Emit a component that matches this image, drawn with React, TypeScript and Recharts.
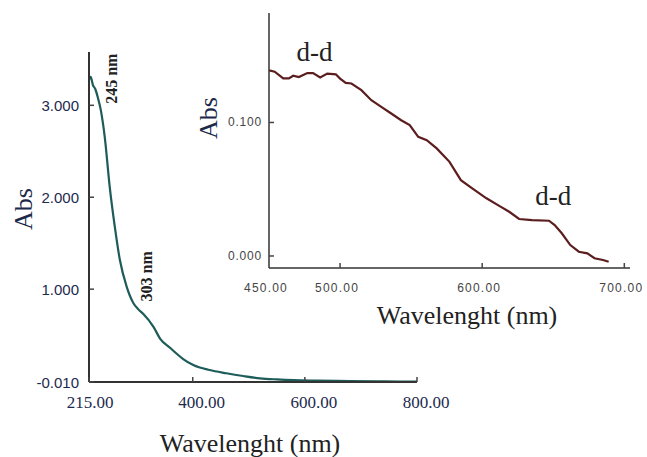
import React from 'react'
import { LineChart, Line, XAxis, YAxis, ReferenceDot, Label } from 'recharts'

// main spectrum (215-800 nm)
const mainWavelength = [215, 218, 222, 226, 231, 236, 243, 252, 261, 270, 282, 294, 303, 312, 330, 342, 360, 371, 383, 401, 430, 460, 490, 520, 550, 580, 620, 680, 740, 800]
const mainAbs = [3.28, 3.31, 3.22, 3.18, 3.08, 2.95, 2.66, 2.11, 1.68, 1.32, 1.03, 0.85, 0.78, 0.73, 0.59, 0.46, 0.36, 0.3, 0.24, 0.175, 0.12, 0.085, 0.055, 0.03, 0.018, 0.01, 0.005, 0.0, -0.004, -0.005]
const mainXTicks = [215, 400, 600, 800]
const mainYTicks = [-0.01, 1, 2, 3]

// inset, visible region 450-700 nm
const insetWavelength = [450, 454, 460, 464, 467, 471, 477, 481, 486, 491, 497, 500, 504, 508, 515, 522, 529, 536, 543, 549, 555, 561, 568, 577, 585, 593, 603, 612, 619, 626, 635, 647, 651, 656, 662, 668, 674, 679, 685, 689]
const insetAbs = [0.139, 0.138, 0.133, 0.133, 0.135, 0.134, 0.137, 0.137, 0.1337, 0.1366, 0.1361, 0.1329, 0.1296, 0.1292, 0.1242, 0.1167, 0.1117, 0.1067, 0.1017, 0.098, 0.0892, 0.0868, 0.0806, 0.0705, 0.0568, 0.0506, 0.0432, 0.0375, 0.0331, 0.0277, 0.0269, 0.0264, 0.0232, 0.017, 0.0082, 0.0032, 0.002, -0.0017, -0.003, -0.0043]
const insetXTicks = [450, 500, 600, 700]
const insetYTicks = [0, 0.1]

const mainData = mainWavelength.map((w, i) => ({ w, a: mainAbs[i] }))
const insetData = insetWavelength.map((w, i) => ({ w, a: insetAbs[i] }))

const SERIF = '"Liberation Serif", "Times New Roman", serif'
const SANS = '"Liberation Sans", Arial, sans-serif'

// text placed relative to the label viewBox centre
const textAt = (text: string, dx: number, dy: number, opts: any = {}) => (props: any) => {
  const vb = props.viewBox || {}
  const cx = vb.x + (vb.width || 0) / 2 + dx
  const cy = vb.y + (vb.height || 0) / 2 + dy
  return (
    <text
      x={cx}
      y={cy}
      textAnchor="middle"
      dominantBaseline="central"
      fontFamily={opts.family || SERIF}
      fontSize={opts.size || 26}
      fontWeight={opts.weight || 'normal'}
      fill={opts.color || '#222'}
      transform={opts.angle ? `rotate(${opts.angle} ${cx} ${cy})` : undefined}
    >
      {text}
    </text>
  )
}

const MainYTick = ({ x, y, payload }: any) => (
  <g>
    <line x1={x + 10} y1={y} x2={x + 15} y2={y} stroke="#444" strokeWidth={1.5} />
    <text x={x} y={y} textAnchor="end" dominantBaseline="central" fontFamily={SANS} fontSize={15} fill="#1c2a4e">
      {payload.value.toFixed(3)}
    </text>
  </g>
)

const MainXTick = ({ x, y, payload }: any) => (
  <g>
    <line x1={x} y1={y - 4} x2={x} y2={y - 9} stroke="#444" strokeWidth={1.5} />
    <text x={x + (payload.value === 215 ? 1 : 9)} y={y + 16} textAnchor="middle" dominantBaseline="central" fontFamily={SERIF} fontSize={17} fill="#1c2a4e">
      {payload.value.toFixed(2)}
    </text>
  </g>
)

const InsetYTick = ({ x, y, payload }: any) => (
  <g>
    <line x1={x + 7} y1={y} x2={x + 12} y2={y} stroke="#444" strokeWidth={1.5} />
    <text x={x} y={y} textAnchor="end" dominantBaseline="central" fontFamily={SANS} fontSize={12} letterSpacing={0.8} fill="#444">
      {payload.value.toFixed(3)}
    </text>
  </g>
)

const InsetXTick = ({ x, y, payload }: any) => (
  <g>
    {payload.value !== 450 && <line x1={x} y1={y - 4} x2={x} y2={y - 9} stroke="#444" strokeWidth={1.5} />}
    <text x={x - 3} y={y + 16} textAnchor="middle" dominantBaseline="central" fontFamily={SANS} fontSize={12} letterSpacing={1.2} fill="#444">
      {payload.value.toFixed(2)}
    </text>
  </g>
)

export default function App() {
  return (
    <div style={{ position: 'absolute', left: 0, top: 0, width: 647, height: 457, background: '#fff' }}>
      <div style={{ position: 'absolute', left: 0, top: 0 }}>
        <LineChart width={647} height={457} data={mainData} margin={{ top: 52, right: 230, bottom: 45, left: 0 }}>
          <XAxis
            dataKey="w"
            type="number"
            domain={[215, 800]}
            ticks={mainXTicks}
            allowDataOverflow
            height={30}
            tickSize={0}
            tickMargin={4}
            tickLine={false}
            axisLine={{ stroke: '#333', strokeWidth: 2 }}
            tick={<MainXTick />}
          >
            <Label content={textAt('Wavelenght (nm)', -3, 46)} />
          </XAxis>
          <YAxis
            type="number"
            domain={[-0.01, 3.58]}
            ticks={mainYTicks}
            allowDataOverflow
            width={89}
            tickSize={0}
            tickMargin={10}
            tickLine={false}
            axisLine={{ stroke: '#333', strokeWidth: 2 }}
            tick={<MainYTick />}
          >
            <Label content={textAt('Abs', -21.5, -8, { angle: -90, color: '#1b2a4a' })} />
          </YAxis>
          <Line type="monotone" dataKey="a" stroke="#1d5c59" strokeWidth={2.2} dot={false} isAnimationActive={false} />
          <ReferenceDot x={256} y={3.29} r={0} fill="none" stroke="none">
            <Label content={textAt('245 nm', 0, 0, { angle: -90, size: 16, weight: 'bold' })} />
          </ReferenceDot>
          <ReferenceDot x={317} y={1.14} r={0} fill="none" stroke="none">
            <Label content={textAt('303 nm', 0, 0, { angle: -90, size: 16, weight: 'bold' })} />
          </ReferenceDot>
        </LineChart>
      </div>
      <div style={{ position: 'absolute', left: 180, top: 0 }}>
        <LineChart width={467} height={340} data={insetData} margin={{ top: 13, right: 17, bottom: 42, left: 0 }}>
          <XAxis
            dataKey="w"
            type="number"
            domain={[450, 704]}
            ticks={insetXTicks}
            allowDataOverflow
            height={30}
            tickSize={0}
            tickMargin={4}
            tickLine={false}
            axisLine={{ stroke: '#333', strokeWidth: 1.5 }}
            tick={<InsetXTick />}
          >
            <Label content={textAt('Wavelenght (nm)', 17.5, 32)} />
          </XAxis>
          <YAxis
            type="number"
            domain={[-0.009, 0.182]}
            ticks={insetYTicks}
            allowDataOverflow
            width={89}
            tickSize={0}
            tickMargin={7}
            tickLine={false}
            axisLine={{ stroke: '#333', strokeWidth: 1.5 }}
            tick={<InsetYTick />}
          >
            <Label content={textAt('Abs', -16.5, -22.5, { angle: -90, color: '#1b2a4a' })} />
          </YAxis>
          <Line type="linear" dataKey="a" stroke="#5b1d1d" strokeWidth={2.2} dot={false} isAnimationActive={false} />
          <ReferenceDot x={482} y={0.1526} r={0} fill="none" stroke="none">
            <Label content={textAt('d-d', 0, 0, { size: 27 })} />
          </ReferenceDot>
          <ReferenceDot x={650} y={0.0449} r={0} fill="none" stroke="none">
            <Label content={textAt('d-d', 0, 0, { size: 27 })} />
          </ReferenceDot>
        </LineChart>
      </div>
    </div>
  )
}
